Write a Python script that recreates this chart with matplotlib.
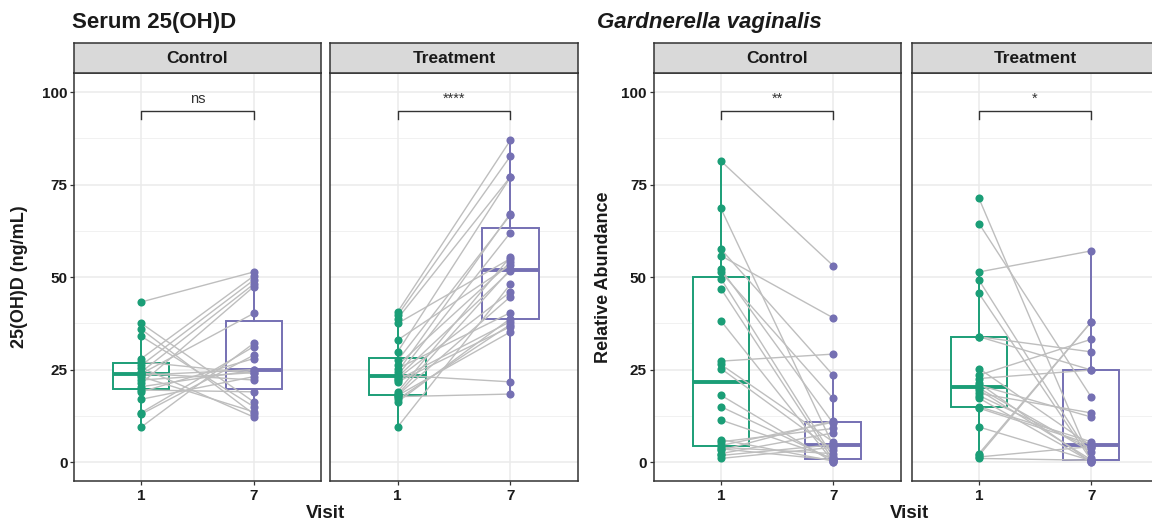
import matplotlib
matplotlib.use('Agg')
import matplotlib.pyplot as plt

plt.rcParams['font.family'] = ['Liberation Sans', 'DejaVu Sans']

# ---------------- data ----------------
visits = ['1', '7']
facets = ['Control', 'Treatment']
y_ticks = [0, 25, 50, 75, 100]

# Serum 25(OH)D, paired (visit 1 -> visit 7)
serum_ctrl_v1 = [43.3, 37.5, 35.9, 34.0, 28.0, 27.1, 26.2, 25.5, 24.4, 24.0, 23.9,
                 23.5, 23.1, 22.2, 21.3, 20.4, 19.5, 19.0, 17.0, 13.4, 13.0, 9.5]
serum_ctrl_v7 = [51.4, 16.3, 13.0, 15.0, 50.3, 24.0, 49.2, 12.2, 48.1, 22.2, 40.2,
                 25.0, 13.6, 24.2, 47.4, 24.8, 19.0, 28.0, 23.1, 31.2, 28.9, 32.1]
serum_trt_v1 = [40.6, 39.7, 38.8, 37.5, 33.0, 29.8, 27.5, 26.2, 25.3, 24.4, 23.5, 23.4,
                23.0, 22.6, 22.2, 21.7, 19.0, 18.3, 18.1, 18.0, 17.7, 17.0, 16.3, 9.5]
serum_trt_v7 = [87.0, 82.7, 77.1, 55.0, 53.3, 77.0, 66.8, 54.0, 40.4, 67.2, 21.7, 62.0,
                51.7, 46.0, 38.0, 36.6, 55.5, 52.1, 44.7, 35.2, 18.4, 37.2, 38.8, 48.1]

# Gardnerella vaginalis relative abundance, paired (visit 1 -> visit 7)
gv_ctrl_v1 = [81.4, 68.6, 57.6, 55.8, 52.2, 51.4, 49.6, 46.9, 38.2, 27.3, 26.4, 25.3,
              18.1, 15.0, 11.4, 6.1, 5.5, 4.5, 4.0, 3.6, 3.2, 2.3, 1.8, 1.0]
gv_ctrl_v7 = [53.1, 4.5, 23.5, 39.0, 10.5, 17.2, 1.4, 0.5, 0.1, 29.2, 5.5, 3.2,
              0.0, 0.7, 1.0, 0.3, 9.1, 10.8, 2.3, 0.6, 11.2, 7.9, 4.7, 4.0]
gv_trt_v1 = [71.3, 64.5, 51.4, 49.2, 45.6, 33.9, 33.9, 25.3, 23.5, 22.6, 21.3, 20.8,
             20.0, 19.5, 18.6, 18.0, 17.3, 15.0, 14.6, 9.5, 2.3, 1.8, 1.4, 1.0]
gv_trt_v7 = [0.2, 17.6, 57.1, 1.2, 0.5, 29.8, 24.9, 4.4, 33.2, 24.9, 0.0, 12.2,
             2.8, 0.6, 13.3, 3.7, 0.1, 5.5, 4.8, 0.4, 37.9, 37.9, 4.2, 0.5]

serum_sig = ['ns', '****']
gv_sig = ['**', '*']

# ---------------- styling ----------------
W, H = 1152, 526
fig = plt.figure(figsize=(W / 100, H / 100), dpi=100)
GREEN = '#1B9E77'
PURPLE = '#7570B3'
DARK = '#333333'
PANEL_TOP, PANEL_BOT = 73.3, 481.0
STRIP_TOP = 42.7


def px_axes(x0, x1, y0, y1):
    return fig.add_axes([x0 / W, 1 - y1 / H, (x1 - x0) / W, (y1 - y0) / H])


def draw_panel(x0, x1, v1, v7, label, sig, show_y):
    ax = px_axes(x0, x1, PANEL_TOP, PANEL_BOT)
    ax.set_xlim(0.4, 2.6)
    ax.set_ylim(-5.1, 105.1)
    ax.set_facecolor('white')
    for y in y_ticks:
        ax.axhline(y, color='#EBEBEB', lw=1.1, zorder=0)
    for y in [12.5, 37.5, 62.5, 87.5]:
        ax.axhline(y, color='#EFEFEF', lw=0.6, zorder=0)
    for x in [1, 2]:
        ax.axvline(x, color='#EBEBEB', lw=1.1, zorder=0)

    bp = ax.boxplot([v1, v7], positions=[1, 2], widths=0.5, showfliers=False,
                    patch_artist=True, whis=1.5, zorder=2)
    for i, c in enumerate([GREEN, PURPLE]):
        bp['boxes'][i].set(facecolor='white', edgecolor=c, linewidth=1.4)
        bp['medians'][i].set(color=c, linewidth=2.8)
        for w in bp['whiskers'][2 * i:2 * i + 2]:
            w.set(color=c, linewidth=1.4)
        for cap in bp['caps'][2 * i:2 * i + 2]:
            cap.set_visible(False)

    for a, b in zip(v1, v7):
        ax.plot([1, 2], [a, b], color='#BEBEBE', lw=1.0, zorder=3)
    ax.scatter([1] * len(v1), v1, s=34, color=GREEN, zorder=4, linewidths=0)
    ax.scatter([2] * len(v7), v7, s=34, color=PURPLE, zorder=4, linewidths=0)

    ax.plot([1, 1, 2, 2], [92.7, 95, 95, 92.7], color=DARK, lw=1.0, zorder=5)
    ax.text(1.5, 96.2, sig, ha='center', va='bottom', fontsize=10.5, color=DARK)

    ax.set_xticks([1, 2])
    ax.set_xticklabels(visits, fontsize=11, fontweight='bold', color='#1A1A1A')
    ax.set_yticks(y_ticks)
    if show_y:
        ax.set_yticklabels([str(t) for t in y_ticks], fontsize=11,
                           fontweight='bold', color='#1A1A1A')
        ax.tick_params(axis='y', length=3.2, width=0.9, color=DARK, pad=1.5)
    else:
        ax.tick_params(axis='y', left=False, labelleft=False)
    ax.tick_params(axis='x', length=3.2, width=0.9, color=DARK, pad=2.5)
    for s in ax.spines.values():
        s.set_color(DARK)
        s.set_linewidth(1.1)

    sax = px_axes(x0, x1, STRIP_TOP, PANEL_TOP)
    sax.set_facecolor('#D9D9D9')
    sax.set_xticks([])
    sax.set_yticks([])
    for s in sax.spines.values():
        s.set_color(DARK)
        s.set_linewidth(1.1)
    sax.text(0.5, 0.47, label, ha='center', va='center', fontsize=12.5,
             fontweight='bold', color='#1A1A1A', transform=sax.transAxes)
    return ax


draw_panel(74, 321, serum_ctrl_v1, serum_ctrl_v7, facets[0], serum_sig[0], True)
draw_panel(330, 578, serum_trt_v1, serum_trt_v7, facets[1], serum_sig[1], False)
draw_panel(653.5, 900.5, gv_ctrl_v1, gv_ctrl_v7, facets[0], gv_sig[0], True)
draw_panel(911.6, 1158.6, gv_trt_v1, gv_trt_v7, facets[1], gv_sig[1], False)


def fx(x):
    return x / W


def fy(y):
    return 1 - y / H


fig.text(fx(72), fy(28), 'Serum 25(OH)D', fontsize=16, fontweight='bold',
         ha='left', va='baseline', color='#1A1A1A')
fig.text(fx(597), fy(28), 'Gardnerella vaginalis', fontsize=16, fontweight='bold',
         style='italic', ha='left', va='baseline', color='#1A1A1A')
fig.text(fx(20), fy(277), '25(OH)D (ng/mL)', fontsize=13, fontweight='bold',
         rotation=90, ha='center', va='center', color='#1A1A1A')
fig.text(fx(603), fy(277), 'Relative Abundance', fontsize=13, fontweight='bold',
         rotation=90, ha='center', va='center', color='#1A1A1A')
fig.text(fx(326), fy(514), 'Visit', fontsize=13.5, fontweight='bold',
         ha='center', va='center', color='#1A1A1A')
fig.text(fx(910), fy(514), 'Visit', fontsize=13.5, fontweight='bold',
         ha='center', va='center', color='#1A1A1A')

fig.savefig('out.png', dpi=100)
